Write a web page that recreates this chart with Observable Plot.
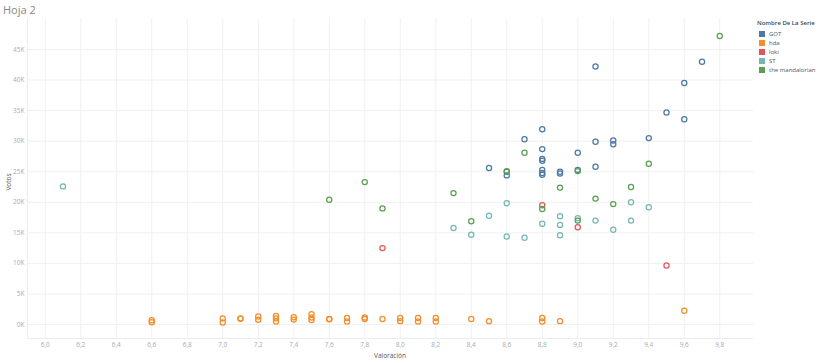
<!DOCTYPE html>
<html>
<head>
<meta charset="utf-8">
<script src="https://cdn.jsdelivr.net/npm/d3@7"></script>
<script src="https://cdn.jsdelivr.net/npm/@observablehq/plot@0.6"></script>
<style>
  html, body { margin: 0; padding: 0; background: #fff; }
  #wrap { position: relative; width: 820px; height: 363px; font-family: "Open Sans", Lato, sans-serif; }
  #chart { position: absolute; left: 0; top: 0; }
  .title { position: absolute; left: 3px; top: 2px; font-size: 11px; color: #888; }
  .xlab { position: absolute; left: 390px; top: 351px; transform: translateX(-50%); font-size: 6.5px; color: #555; }
  .ylab { position: absolute; left: 8px; top: 182px; transform: translate(-50%, -50%) rotate(-90deg); font-size: 6.5px; color: #555; }
  .legend { position: absolute; left: 757px; top: 19px; font-size: 6px; color: #555; }
  .legend .lt { font-weight: 600; margin-bottom: 2px; color: #444; }
  .legend .it { display: flex; align-items: center; height: 9.2px; }
  .legend .sw { width: 6px; height: 6px; margin-right: 4px; margin-left: 2px; }
</style>
</head>
<body>
<div id="wrap">
  <div id="chart"></div>
  <div class="title">Hoja 2</div>
  <div class="xlab">Valoración</div>
  <div class="ylab">Votos</div>
  <div class="legend" id="legend"></div>
</div>
<script>
const seriesNames = ["GOT", "hda", "loki", "ST", "the mandalorian"];
const seriesColors = ["#4e79a7", "#f28e2b", "#e15759", "#76b7b2", "#59a14f"];

const gotRating = [9.1, 9.7, 9.6, 9.5, 9.6, 8.8, 8.7, 9.1, 9.2, 9.2, 9.4, 8.8, 9.0, 8.8, 8.8, 8.5, 8.6, 8.6, 8.8, 8.8, 8.8, 8.9, 8.9, 9.0, 9.1];
const gotVotes  = [42200, 43000, 39500, 34700, 33600, 31950, 30300, 29900, 30100, 29500, 30500, 28700, 28100, 27100, 26800, 25600, 24400, 25000, 25300, 24800, 24500, 25000, 24700, 25300, 25800];

const hdaRating = [6.6, 6.6, 7.0, 7.0, 7.1, 7.1, 7.2, 7.2, 7.3, 7.3, 7.3, 7.4, 7.4, 7.5, 7.5, 7.5, 7.6, 7.6, 7.7, 7.7, 7.8, 7.8, 7.9, 8.0, 8.0, 8.1, 8.1, 8.2, 8.2, 8.4, 8.5, 8.8, 8.8, 8.9, 9.6];
const hdaVotes  = [700, 380, 1000, 330, 1000, 950, 1300, 770, 1400, 1000, 500, 1200, 800, 1700, 1150, 750, 900, 850, 1050, 500, 1150, 900, 900, 1050, 550, 1050, 500, 1050, 500, 900, 550, 1050, 500, 550, 2240];

const lokiRating = [7.9, 8.8, 9.0, 9.5];
const lokiVotes  = [12500, 19500, 15900, 9650];

const stRating = [6.1, 8.3, 8.4, 8.5, 8.6, 8.6, 8.7, 8.8, 8.9, 8.9, 8.9, 9.0, 9.1, 9.2, 9.3, 9.3, 9.4];
const stVotes  = [22600, 15800, 14700, 17800, 19850, 14400, 14200, 16500, 17700, 16300, 14600, 17400, 17000, 15500, 20000, 17000, 19200];

const mandoRating = [7.6, 7.8, 7.9, 8.3, 8.4, 8.6, 8.7, 8.8, 8.9, 9.0, 9.0, 9.1, 9.2, 9.3, 9.4, 9.8];
const mandoVotes  = [20400, 23300, 19000, 21500, 16900, 25100, 28100, 18900, 22400, 25100, 17000, 20600, 19700, 22500, 26300, 47200];

const xTicks = [6.0, 6.2, 6.4, 6.6, 6.8, 7.0, 7.2, 7.4, 7.6, 7.8, 8.0, 8.2, 8.4, 8.6, 8.8, 9.0, 9.2, 9.4, 9.6, 9.8];
const yTicks = [0, 5000, 10000, 15000, 20000, 25000, 30000, 35000, 40000, 45000];

const seriesData = [
  [gotRating, gotVotes], [hdaRating, hdaVotes], [lokiRating, lokiVotes],
  [stRating, stVotes], [mandoRating, mandoVotes]
];
const points = [];
seriesData.forEach(([xs, ys], i) => {
  xs.forEach((x, j) => points.push({ serie: seriesNames[i], rating: x, votes: ys[j] }));
});

const xDomain = [5.9, 9.99];
const yDomain = [-2290, 50070];
const fmtX = d => d.toFixed(1).replace(".", ",");
const fmtY = d => (d / 1000) + "K";

const chart = Plot.plot({
  width: 820,
  height: 363,
  marginLeft: 27,
  marginRight: 67,
  marginTop: 18,
  marginBottom: 25,
  style: { fontFamily: "'Open Sans', Lato, sans-serif", fontSize: "6.5px", color: "#aaa", background: "transparent" },
  x: { domain: xDomain, label: null },
  y: { domain: yDomain, label: null },
  color: { domain: seriesNames, range: seriesColors },
  marks: [
    Plot.gridX(xTicks, { stroke: "#f0f0f0", strokeOpacity: 1, strokeWidth: 1 }),
    Plot.gridY(yTicks, { stroke: "#f0f0f0", strokeOpacity: 1, strokeWidth: 1 }),
    Plot.ruleX([xDomain[0]], { stroke: "#ececec" }),
    Plot.ruleY([yDomain[0]], { stroke: "#ececec" }),
    Plot.axisX(xTicks, { tickSize: 0, tickPadding: 4, tickFormat: fmtX, label: null, fill: "#aaa" }),
    Plot.axisY(yTicks, { tickSize: 0, tickPadding: 3, tickFormat: fmtY, label: null, fill: "#aaa" }),
    Plot.dot(points, { x: "rating", y: "votes", stroke: "serie", r: 2.6, strokeWidth: 1.25, fill: "none" })
  ]
});
document.getElementById("chart").appendChild(chart);

const legend = document.getElementById("legend");
legend.innerHTML = '<div class="lt">Nombre De La Serie</div>' +
  seriesNames.map((n, i) => `<div class="it"><div class="sw" style="background:${seriesColors[i]}"></div>${n}</div>`).join("");
</script>
</body>
</html>
